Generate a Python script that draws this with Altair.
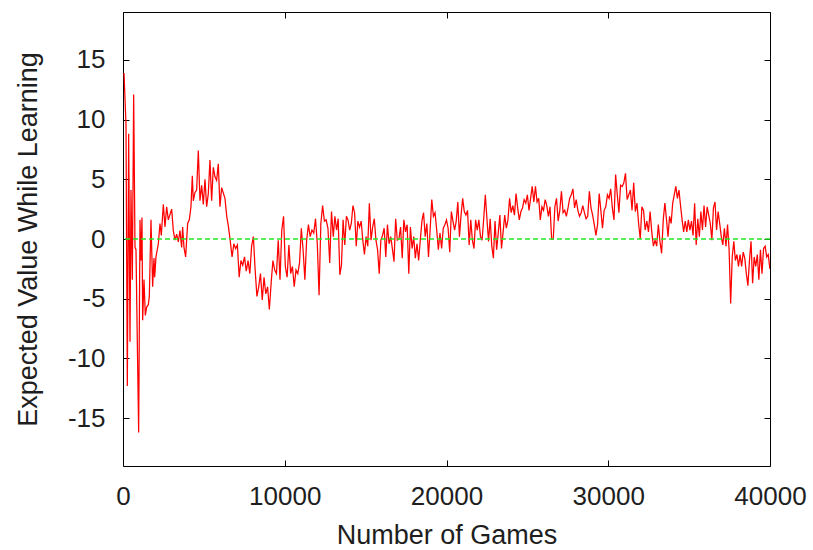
import altair as alt
import numpy as np
import pandas as pd

# ---- data ----
# early part (explicit game numbers)
games_a = [62, 185, 268, 350, 433, 494, 577, 659, 742, 803, 886, 968, 1051, 1112, 1174,
           1215, 1298, 1380, 1463, 1566, 1627, 1730, 1833, 1916, 1957, 2039, 2184, 2287,
           2369, 2493, 2596, 2699, 2802, 3008, 3111, 3214, 3317, 3420, 3523, 3626, 3687,
           3770, 3873, 3996, 4099, 4202, 4285, 4347, 4450, 4553, 4656, 4759, 4862, 4965,
           5068, 5171, 5274, 5377, 5480, 5583, 5686, 5789, 5892, 5995, 6098]
values_a = [13.9, 9.6, -12.3, 8.8, -8.6, 4.1, -3.4, 12.1, -0.7, -0.9, -8.7, -16.2, 1.6, -1.8,
            1.8, -6.8, -3.4, -6.4, -5.7, -5.5, -4.8, 1.6, -4.0, -1.6, -3.2, -1.5, -0.4, 1.3,
            0.3, 2.9, 1.0, 2.7, 1.6, 2.5, 0.7, -0.1, 0.4, -0.25, 0.7, -0.7, 1.0, -0.7, -1.5,
            1.3, 1.6, 2.7, 5.3, 3.2, 3.9, 4.1, 7.4, 3.2, 4.5, 2.9, 5.0, 2.7, 3.8, 6.6, 3.2,
            6.0, 5.2, 4.9, 6.3, 2.7, 4.3]

# later parts: (first game, last game, values evenly spread between them)
values_b = [3.4, 1.9, 1.0, -0.2, -1.5, -0.4, -0.8, -0.5, -3.2, -1.8, -2.2, -1.5, -2.7, -1.8,
            -2.9, -0.6, 0.2, -2.6, -4.8, -4.0, -2.9, -5.1, -3.2, -4.6, -4.0, -5.9, -3.7, -1.8,
            -2.6, -2.9, -0.1, -3.4, 0.75, 1.9, -2.3, -3.2, -0.5, -2.9, -2.3, -4.0, -2.6, -2.9,
            -2.0, 0.9, -0.9, -3.4, -0.1, 1.2, 0.2, 0.75, 0.5, 1.7, -0.4, -4.7, 1.3, 2.8, 1.5,
            1.6, 0.9, -2.0, 2.3, 0.2]
values_c = [1.9, 0.75, 1.7, -3.0, -2.2, 1.6, -0.5, 1.9, 1.6, 0.75, 1.3, 2.8, 2.2, -0.6, 1.5,
            1.0, 1.5, -0.1, -1.3, 0.2, -0.6, 3.0, -0.1, 1.0, 1.7, -0.1, -0.9, -2.9, -0.1, 0.3,
            0.9, -1.5, 1.2, -0.4, 0.2, -0.8, -1.9, 1.7, -0.1, 0.0, 1.0, -1.6, 1.6, 0.6, 1.2,
            -2.9, 1.0, -0.8, 0.2, -1.6, -0.4, -1.8, -0.1, 1.5, 2.2, 0.2, 1.3, -1.5, 0.75, 3.3,
            1.9, 2.2, 0.75, -0.9, 0.5, -0.8, 0.9]
values_d = [1.2, 1.6, 0.9, -1.1, 2.3, 1.5, 0.75, 1.5, 3.1, 0.2, 2.0, 3.4, 2.3, 2.0, 2.4, -0.5,
            1.6, -0.1, -0.8, 1.6, 0.75, 1.6, 0.2, -0.1, 1.7, 3.7, 1.7, -0.2, 1.7, -0.6, -1.6,
            1.5, -0.9, 0.5, 2.0, -0.8, 0.6, 2.0, 0.9, 1.6, 3.4, 2.2, 2.8, 2.0, 3.8, 2.6, 1.6,
            2.3, 2.6, 3.3, 3.0, 3.7, 2.4, 3.4, 4.4, 3.1, 4.4, 3.1, 3.4, 1.6, 2.7, 2.4, 3.3,
            2.8, 1.9, 2.7, 0.0, 0.0]
values_e = [2.7, 3.4, 1.5, 2.4, 4.0, 2.2, 2.4, 1.9, 2.6, 3.4, 3.7, 4.2, 2.6, 3.3, 2.4, 1.9,
            2.2, 2.8, 2.2, 1.7, 1.9, 4.0, 2.6, 2.0, 1.2, 0.3, 1.2, 3.8, 2.4, 0.9, 2.4, 2.7,
            3.7, 3.4, 4.2, 2.6, 1.6, 5.4, 3.7, 2.2, 4.5, 4.4, 4.7, 5.5, 3.3, 3.7, 4.1, 2.4,
            4.7, 2.3, 3.0, 1.3, 0.0, 2.7, 2.4, 0.75, 1.5, 0.6, 2.3, 0.6, -0.6, -0.1, -0.6,
            1.2, -0.2, -1.2, 1.6]
values_f = [3.0, 1.7, 0.2, 1.9, 1.3, 3.0, 3.7, 4.4, 3.4, 4.1, 2.8, 1.6, 0.6, 1.5, 0.6, 1.6,
            0.75, 1.5, 0.3, 3.0, -0.5, 1.7, 0.2, 2.3, 0.75, 2.8, 1.0, 2.7, 2.0, 1.3, -0.1,
            2.6, 3.1, 0.75, 2.3, 1.3, 0.2, -0.5, 0.9, -0.6, 1.2, -0.9, -5.4, -1.5, -0.2,
            -1.8, -1.3, -2.3, -1.3, -2.3, -1.1, -1.6, -2.9, -3.9, -1.8, -0.2, -3.7, -1.5,
            -2.3, -1.3, -3.4, -0.9, -2.9, -0.8, -0.6, -1.5, -1.3, -2.5]

segments = [
    (6304, 13000, values_b),
    (13100, 19800, values_c),
    (19900, 26600, values_d),
    (26700, 33400, values_e),
    (33500, 39990, values_f),
]

x_ticks = [0, 10000, 20000, 30000, 40000]
y_ticks = [-15, -10, -5, 0, 5, 10, 15]
zero_level = [0]

# ---- build table ----
g_all = list(games_a)
v_all = list(values_a)
for g0, g1, vals in segments:
    g_all += list(np.linspace(g0, g1, len(vals)))
    v_all += vals
df = pd.DataFrame({"games": g_all, "value": v_all})
zero_df = pd.DataFrame({"v": zero_level})

FONT = "Liberation Sans, Arial, Helvetica, sans-serif"
TXT = "#1e1e1e"
xscale = alt.Scale(domain=[0, 40000], nice=False, zero=False)
yscale = alt.Scale(domain=[-19, 19], nice=False, zero=False)

common = dict(domain=False, grid=False, tickColor="black", tickWidth=1, tickSize=6,
              offset=-6, labelFont=FONT, labelColor=TXT, titleFont=FONT,
              titleColor=TXT, titleFontWeight="normal")

x_bottom = alt.Axis(orient="bottom", values=x_ticks, labelFontSize=26, labelPadding=17,
                    labelFlush=False, labelOverlap=False, title="Number of Games",
                    titleFontSize=27, titlePadding=13, format="d", **common)
x_top = alt.Axis(orient="top", values=x_ticks, labels=False, title="", **common)
y_left = alt.Axis(orient="left", values=y_ticks, labelFontSize=26, labelPadding=18,
                  labelOverlap=False, labelExpr="'' + datum.value",
                  title="Expected Value While Learning", titleFontSize=27,
                  titlePadding=25, **common)
y_right = alt.Axis(orient="right", values=y_ticks, labels=False, title="", **common)

line = alt.Chart(df).mark_line(color="#ff0000", strokeWidth=1.25, clip=True).encode(
    x=alt.X("games:Q", scale=xscale, axis=x_bottom),
    y=alt.Y("value:Q", scale=yscale, axis=y_left),
)
mirror = alt.Chart(df).mark_line(opacity=0).encode(
    x=alt.X("games:Q", scale=xscale, axis=x_top),
    y=alt.Y("value:Q", scale=yscale, axis=y_right),
)
zero = alt.Chart(zero_df).mark_rule(color="#22e622", strokeWidth=1.3,
                                    strokeDash=[5, 3]).encode(
    y=alt.Y("v:Q", scale=yscale, axis=None)
)

chart = (
    alt.layer(line, mirror, zero)
    .resolve_axis(x="independent", y="independent")
    .properties(
        width=647,
        height=454,
        autosize=alt.AutoSizeParams(type="none"),
        padding={"left": 123, "top": 12, "right": 43, "bottom": 84},
        background="white",
    )
    .configure_view(stroke="black", strokeWidth=1)
)

chart.save("out.html", embed_options={"renderer": "svg", "actions": False})
